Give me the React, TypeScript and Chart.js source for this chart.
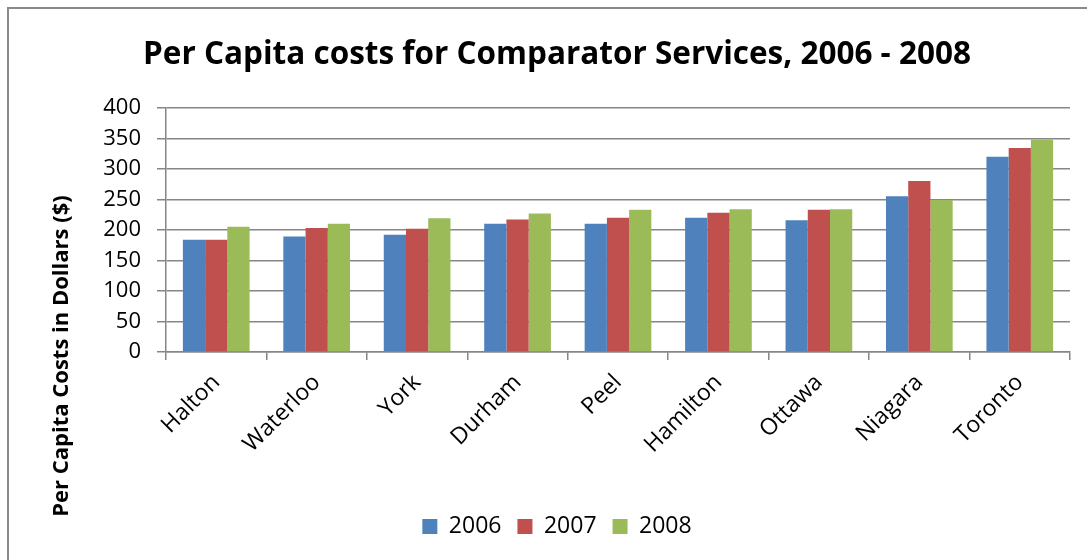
import React, { useEffect, useRef } from "react";
import { Chart, registerables } from "chart.js";

Chart.register(...registerables);

const categories = ["Halton", "Waterloo", "York", "Durham", "Peel", "Hamilton", "Ottawa", "Niagara", "Toronto"];
const series2006 = [184, 189, 192, 210, 210, 220, 216, 255, 320];
const series2007 = [184, 203, 202, 217, 220, 228, 233, 280, 334];
const series2008 = [205, 210, 219, 227, 233, 234, 234, 249, 348];
const seriesLabels = ["2006", "2007", "2008"];
const yMin = 0;
const yMax = 400;
const yStep = 50;

const titleText = "Per Capita costs for Comparator Services, 2006 - 2008";
const yTitleText = "Per Capita Costs in Dollars ($)";

const FONT = "'Open Sans', 'DejaVu Sans', sans-serif";
const GRID = "#868686";

const yTitlePlugin = {
  id: "yTitleFree",
  afterDraw(chart: any) {
    const ctx = chart.ctx;
    ctx.save();
    ctx.translate(62, 356);
    ctx.rotate(-Math.PI / 2);
    ctx.font = `bold 22px ${FONT}`;
    ctx.fillStyle = "#000";
    ctx.textAlign = "center";
    ctx.textBaseline = "middle";
    ctx.fillText(yTitleText, 0, 0);
    ctx.restore();
  },
};

export default function App() {
  const ref = useRef<HTMLCanvasElement | null>(null);

  useEffect(() => {
    if (!ref.current) return;
    const chart = new Chart(ref.current, {
      type: "bar",
      data: {
        labels: categories,
        datasets: [
          { label: seriesLabels[0], data: series2006, backgroundColor: "#4F81BD" },
          { label: seriesLabels[1], data: series2007, backgroundColor: "#C0504D" },
          { label: seriesLabels[2], data: series2008, backgroundColor: "#9BBB59" },
        ],
      },
      options: {
        animation: false,
        responsive: true,
        maintainAspectRatio: false,
        layout: { padding: { top: 0, left: 44, right: 17, bottom: 12 } },
        datasets: { bar: { barPercentage: 1, categoryPercentage: 0.664 } },
        plugins: {
          title: {
            display: true,
            text: titleText,
            color: "#000",
            font: { family: FONT, size: 31.5, weight: "bold", lineHeight: 1.2 },
            padding: { top: 36, bottom: 34 },
          },
          legend: {
            position: "bottom",
            labels: {
              color: "#000",
              font: { family: FONT, size: 23 },
              boxWidth: 15,
              boxHeight: 15,
              padding: 16,
            },
          },
          tooltip: { enabled: false },
        },
        scales: {
          x: {
            afterFit(scale: any) {
              scale.height = 147;
            },
            grid: { display: true, drawOnChartArea: false, drawTicks: true, tickLength: 8, color: GRID, lineWidth: 1.5 },
            border: { display: true, color: GRID, width: 1.5 },
            ticks: {
              color: "#000",
              font: { family: FONT, size: 23 },
              minRotation: 45,
              maxRotation: 45,
              padding: 9,
            },
          },
          y: {
            min: yMin,
            max: yMax,
            afterFit(scale: any) {
              scale.width = 122;
            },
            grid: { color: GRID, lineWidth: 1.5, tickLength: 9 },
            border: { display: true, color: GRID, width: 1.5 },
            ticks: {
              stepSize: yStep,
              color: "#000",
              font: { family: FONT, size: 22 },
              padding: 16,
            },
          },
        },
      },
      plugins: [yTitlePlugin],
    });
    return () => chart.destroy();
  }, []);

  return (
    <div style={{ position: "fixed", left: 0, top: 0, width: 1087, height: 560, background: "#fff", overflow: "hidden" }}>
      <div
        style={{
          position: "absolute",
          left: 7,
          top: 7,
          width: 1200,
          height: 700,
          border: "2px solid #8a8a8a",
          boxSizing: "border-box",
        }}
      />
      <div style={{ position: "absolute", left: 0, top: 0, width: 1087, height: 560 }}>
        <canvas ref={ref} />
      </div>
    </div>
  );
}
